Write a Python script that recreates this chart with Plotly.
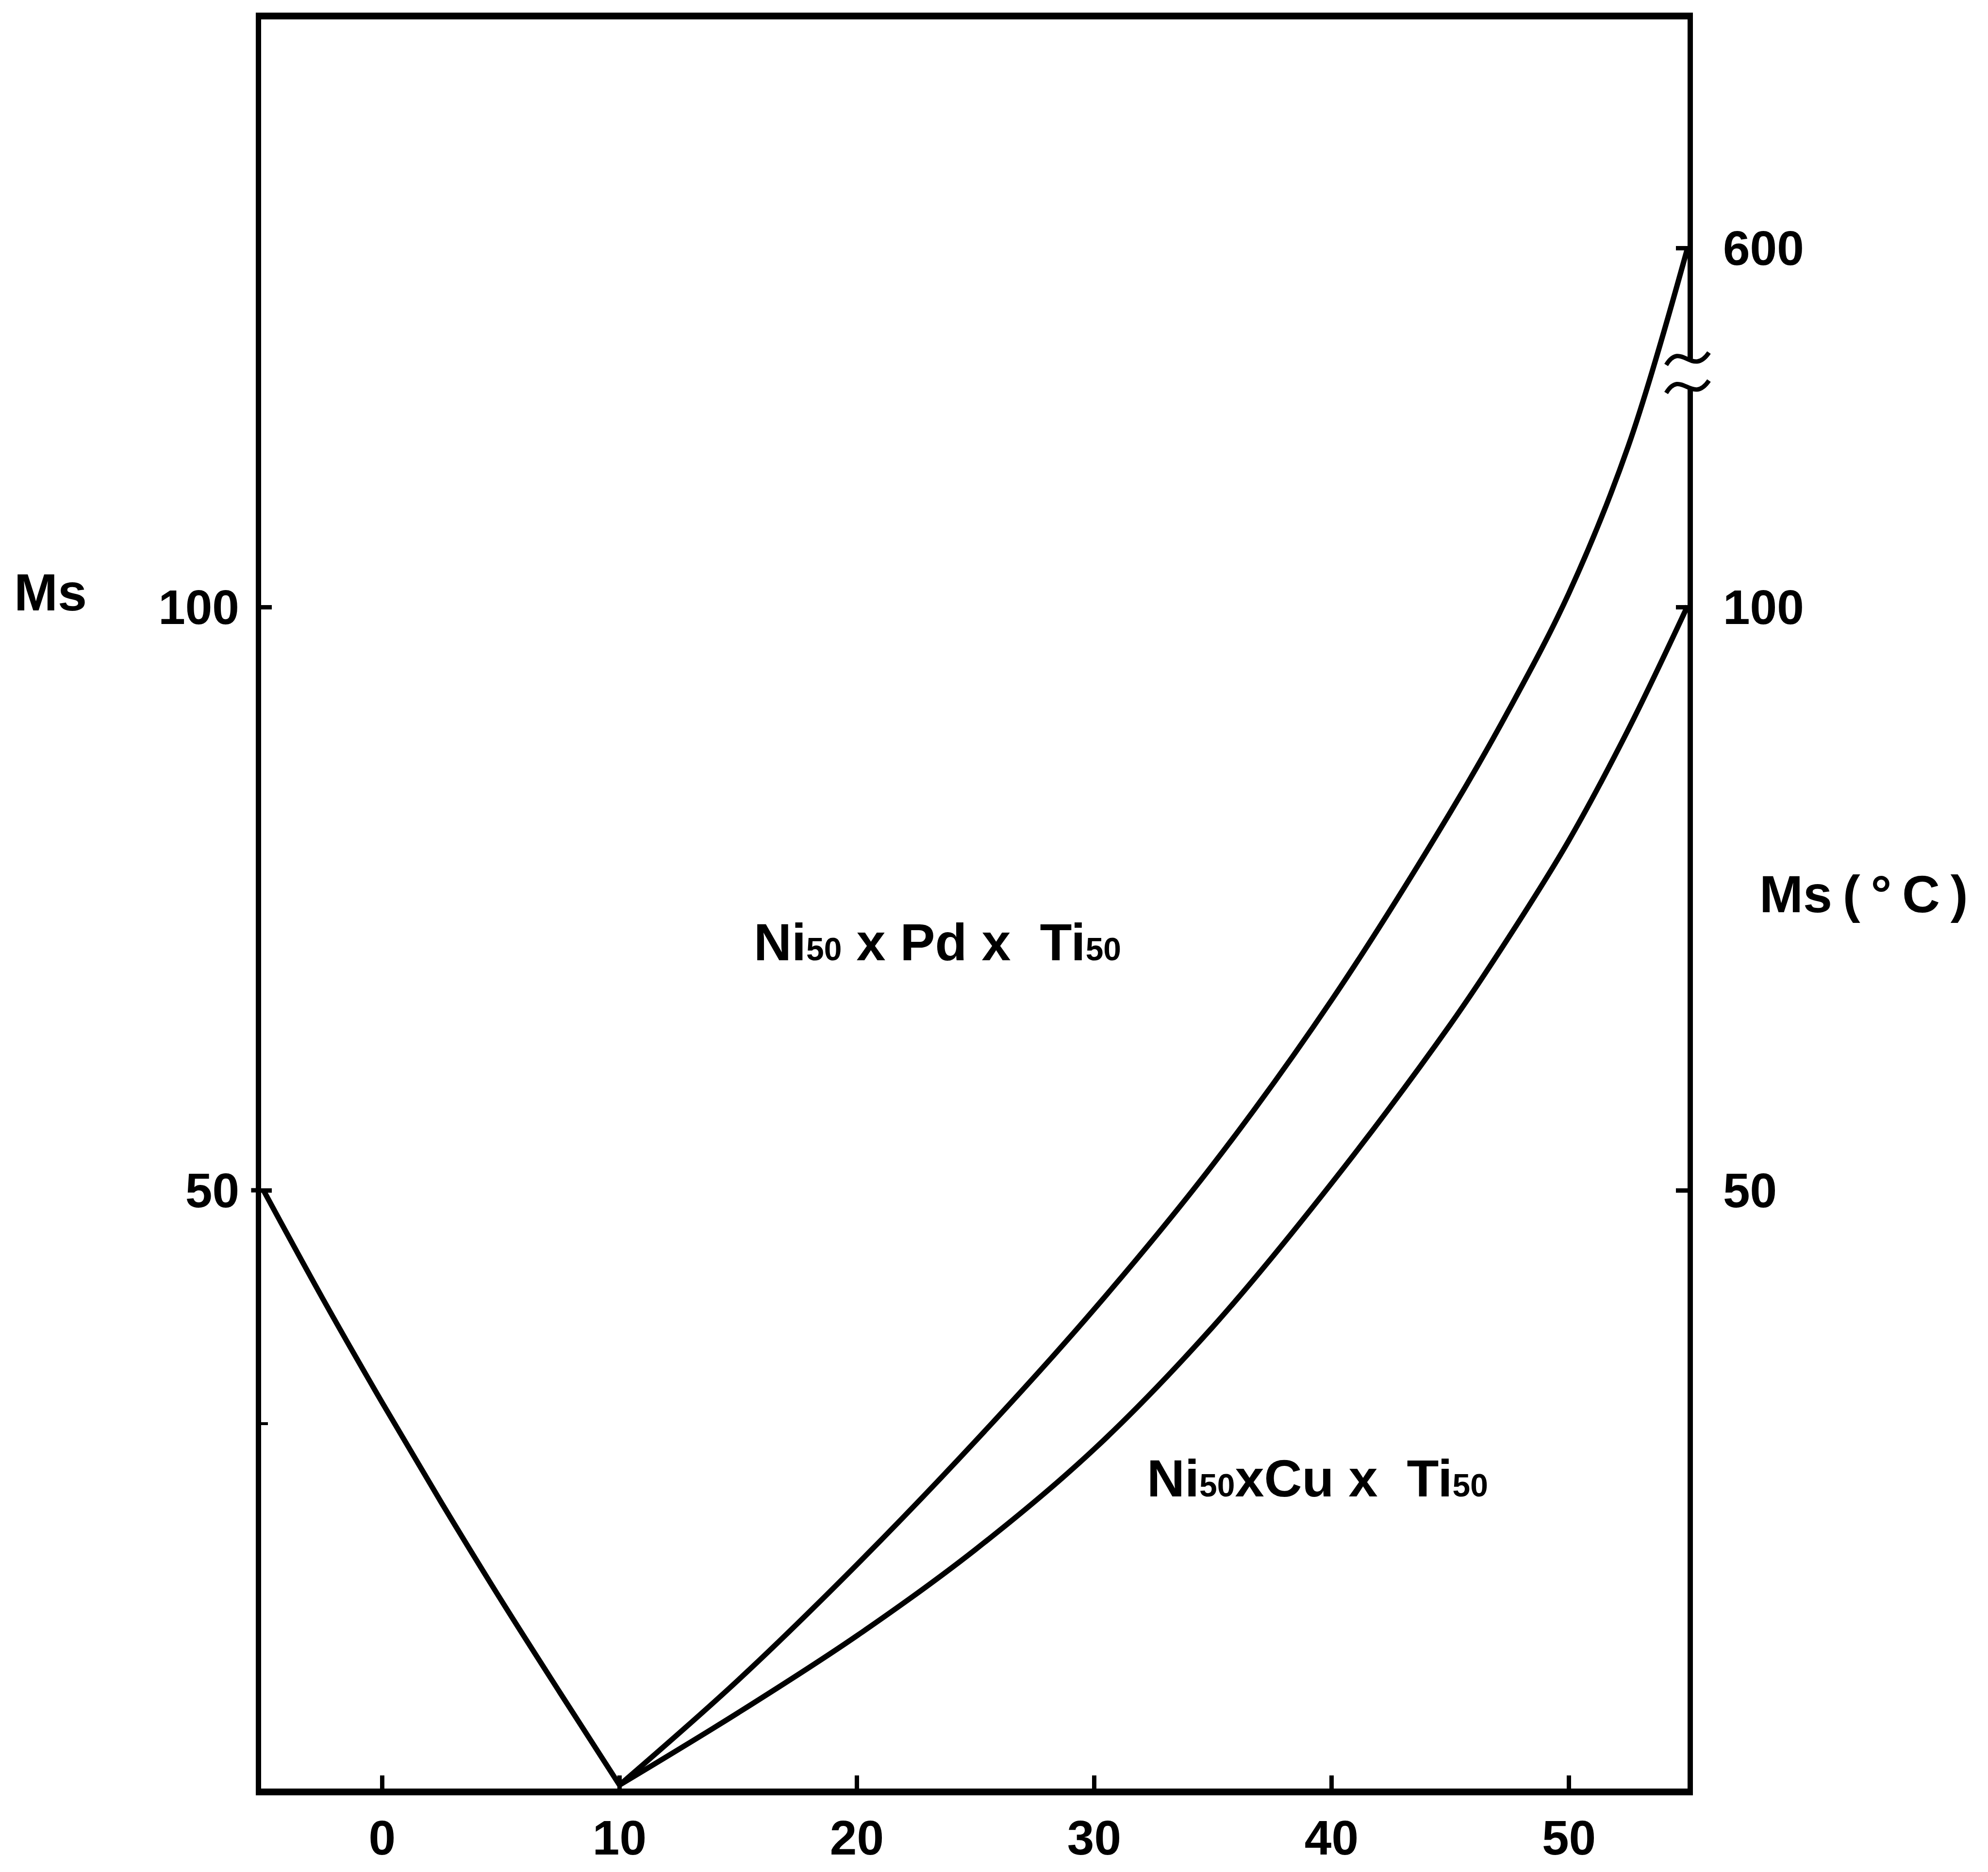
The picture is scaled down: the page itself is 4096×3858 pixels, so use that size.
import plotly.graph_objects as go

# Ms versus composition x (at.%) for Ni(50-x)Pd(x)Ti50 and Ni(50-x)Cu(x)Ti50
x_ni_side = [-5, -2.5, 0, 2.5, 5, 7.5, 10]
ms_ni_side = [50, 40.7, 31.8, 23.2, 14.9, 6.9, -1.0]

x_sub = [10, 15, 20, 25, 30, 35, 40, 45, 47.5, 50, 52.5, 55]
ms_pd = [-1.0, 8.0, 17.9, 28.5, 39.8, 52.2, 66.3, 82.4, 91.3, 101.2, 113.8, 130.8]
ms_cu = [-1.0, 5.2, 11.8, 19.2, 27.8, 38.3, 50.6, 64.2, 71.8, 80.0, 89.5, 100.1]

# axis ticks
x_ticks = [0, 10, 20, 30, 40, 50]
left_ticks = [50, 100]
left_minor = [30]
right_tick_pos = [50, 100, 130.8]
right_tick_text = ["50", "100", "600"]
break_levels = [118.9, 121.3]   # broken right-hand scale between 100 and 600 degC

X_RANGE = [-5.1, 55]
Y_RANGE = [-1.3, 150.4]

FONT = "Liberation Sans, Arial, Helvetica, sans-serif"


def py(v):
    return (v - Y_RANGE[0]) / (Y_RANGE[1] - Y_RANGE[0])


curve = dict(color="black", width=11, shape="spline", smoothing=1.0)

fig = go.Figure()
fig.add_trace(go.Scatter(x=x_ni_side, y=ms_ni_side, mode="lines", line=curve,
                         hoverinfo="skip", showlegend=False))
fig.add_trace(go.Scatter(x=x_sub, y=ms_pd, mode="lines", line=curve,
                         hoverinfo="skip", showlegend=False))
fig.add_trace(go.Scatter(x=x_sub, y=ms_cu, mode="lines", line=curve,
                         hoverinfo="skip", showlegend=False, yaxis="y2"))

axis_common = dict(showgrid=False, zeroline=False, showline=True,
                   linecolor="black", tickcolor="black", ticks="inside")
tick_font = dict(size=100, weight="bold")

fig.update_layout(
    width=4096, height=3858,
    margin=dict(l=538, r=619, t=40, b=172, autoexpand=False),
    paper_bgcolor="white", plot_bgcolor="white",
    showlegend=False,
    font=dict(family=FONT, color="black", size=102),
    xaxis=dict(axis_common, range=X_RANGE, linewidth=14, mirror=True,
               ticklen=27, tickwidth=9, tickvals=x_ticks,
               ticktext=[str(v) for v in x_ticks],
               tickfont=tick_font, ticklabelstandoff=2),
    yaxis=dict(axis_common, range=Y_RANGE, linewidth=11,
               ticklen=22, tickwidth=9, tickvals=left_ticks,
               ticktext=[str(v) for v in left_ticks],
               tickfont=tick_font, ticklabelstandoff=14,
               minor=dict(tickvals=left_minor, ticks="inside", ticklen=14,
                          tickwidth=6, tickcolor="black", showgrid=False)),
    yaxis2=dict(axis_common, range=Y_RANGE, overlaying="y", side="right",
                linewidth=11, ticklen=24, tickwidth=9,
                tickvals=right_tick_pos, ticktext=right_tick_text,
                tickfont=tick_font, ticklabelstandoff=42),
)

# break marks on the right-hand axis, plus the outer stub of the left 50 tick
shapes = [dict(type="rect", xref="paper", yref="paper", x0=0.99, x1=1.01,
               y0=py(break_levels[0]), y1=py(break_levels[1]),
               fillcolor="white", line=dict(width=0), layer="above"),
          dict(type="line", xref="paper", yref="paper", x0=-0.007, x1=0,
               y0=py(left_ticks[0]), y1=py(left_ticks[0]),
               line=dict(color="black", width=9), layer="above")]
hw = 0.015
a = 0.0035
for lv in break_levels:
    y0 = py(lv)
    path = (f"M {1 - hw},{y0 - a} C {1 - hw * 0.3},{y0 + 3 * a} "
            f"{1 + hw * 0.2},{y0 - 3 * a} {1 + hw},{y0 + a}")
    shapes.append(dict(type="path", xref="paper", yref="paper", path=path,
                       line=dict(color="black", width=9), layer="above"))
fig.update_layout(shapes=shapes)

sub = '<span style="font-size:66px">50</span>'
annotations = [
    # axis captions outside the plotting area
    dict(x=-0.1475, y=py(101.3), xref="paper", yref="paper",
         text="<b>Ms</b>", font=dict(size=108)),
    dict(x=1.1235, y=py(75.4), xref="paper", yref="paper",
         text="<b>Ms\u2009(\u2009°\u2009C\u2009)</b>", font=dict(size=108)),
    # curve labels
    dict(x=23.4, y=71.3, xref="x", yref="y",
         text=f"<b>Ni{sub} x Pd x \u00a0Ti{sub}</b>", font=dict(size=108)),
    dict(x=39.4, y=25.3, xref="x", yref="y",
         text=f"<b>Ni{sub}xCu x \u00a0Ti{sub}</b>", font=dict(size=108)),
]
for ann in annotations:
    ann.update(showarrow=False, xanchor="center", yanchor="middle")
fig.update_layout(annotations=annotations)

fig.write_html("out.html")
